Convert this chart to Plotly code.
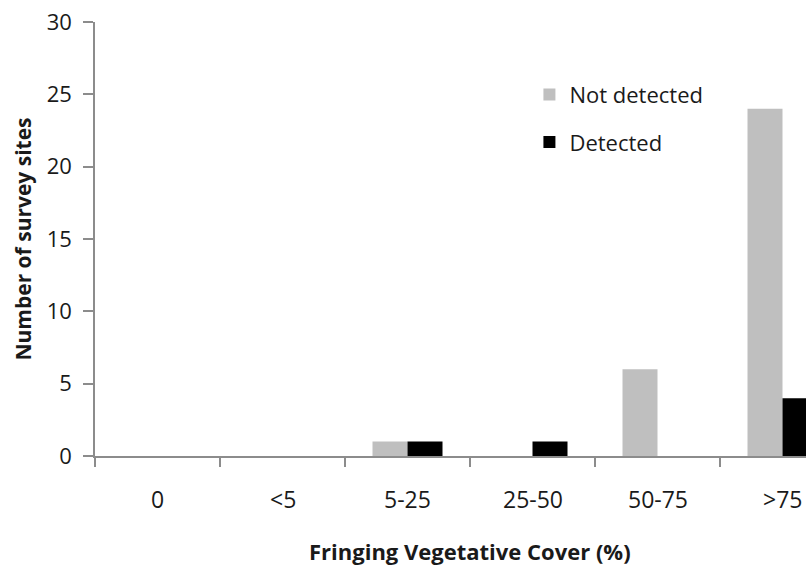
import plotly.graph_objects as go

categories = ["0", "<5", "5-25", "25-50", "50-75", ">75"]
not_detected = [0, 0, 1, 0, 6, 24]
detected = [0, 0, 1, 1, 0, 4]
y_ticks = [0, 5, 10, 15, 20, 25, 30]

FONT = "Open Sans"
TXT = "#1a1a1a"
AX = "#8C8C8C"

fig = go.Figure()
fig.add_trace(go.Bar(x=categories, y=not_detected, name="Not detected",
                     marker=dict(color="#BFBFBF", line=dict(width=0)),
                     legendgroup="a"))
fig.add_trace(go.Bar(x=categories, y=detected, name="Detected",
                     marker=dict(color="#000000", line=dict(width=0)),
                     legendgroup="b"))

# category labels placed below the axis through the x scale
for c in categories:
    fig.add_annotation(x=c, xref="x", y=-0.099, yref="paper", text=c, showarrow=False,
                       xanchor="center", yanchor="middle",
                       font=dict(family=FONT, size=23, color=TXT))

# x-axis title
fig.add_annotation(x=0.527, xref="paper", y=-0.219, yref="paper",
                   text="<b>Fringing Vegetative Cover (%)</b>", showarrow=False,
                   xanchor="center", yanchor="middle",
                   font=dict(family=FONT, size=22, color=TXT))

fig.update_layout(
    width=806, height=567,
    margin=dict(l=95, r=0, t=22, b=111),
    paper_bgcolor="white", plot_bgcolor="white",
    barmode="group", bargap=0.44, bargroupgap=0,
    font=dict(family=FONT, size=22, color=TXT),
    showlegend=True,
    legend=dict(x=0.611, y=0.881, xanchor="left", yanchor="top",
                font=dict(family=FONT, size=22, color=TXT),
                tracegroupgap=16, traceorder="grouped",
                bgcolor="rgba(0,0,0,0)"),
    xaxis=dict(
        type="category",
        range=[-0.5, 5.188],
        automargin=False,
        showline=True, linecolor=AX, linewidth=1.5,
        ticks="outside", tickson="boundaries", ticklen=9, tickcolor=AX, tickwidth=1.5,
        showticklabels=False,
        showgrid=False, zeroline=False,
    ),
    yaxis=dict(
        range=[0, 30],
        tickvals=y_ticks,
        automargin=False,
        showline=True, linecolor=AX, linewidth=1.5,
        ticks="outside", ticklen=10, tickcolor=AX, tickwidth=1.5,
        tickfont=dict(family=FONT, size=22, color=TXT),
        ticklabelstandoff=7,
        showgrid=False, zeroline=False,
        title=dict(text="<b>Number of survey sites</b>",
                   font=dict(family=FONT, size=21, color=TXT), standoff=9),
    ),
)

fig.write_html("out.html",
               config=dict(displayModeBar=False, responsive=False),
               post_script="document.body.style.margin='0px';")
